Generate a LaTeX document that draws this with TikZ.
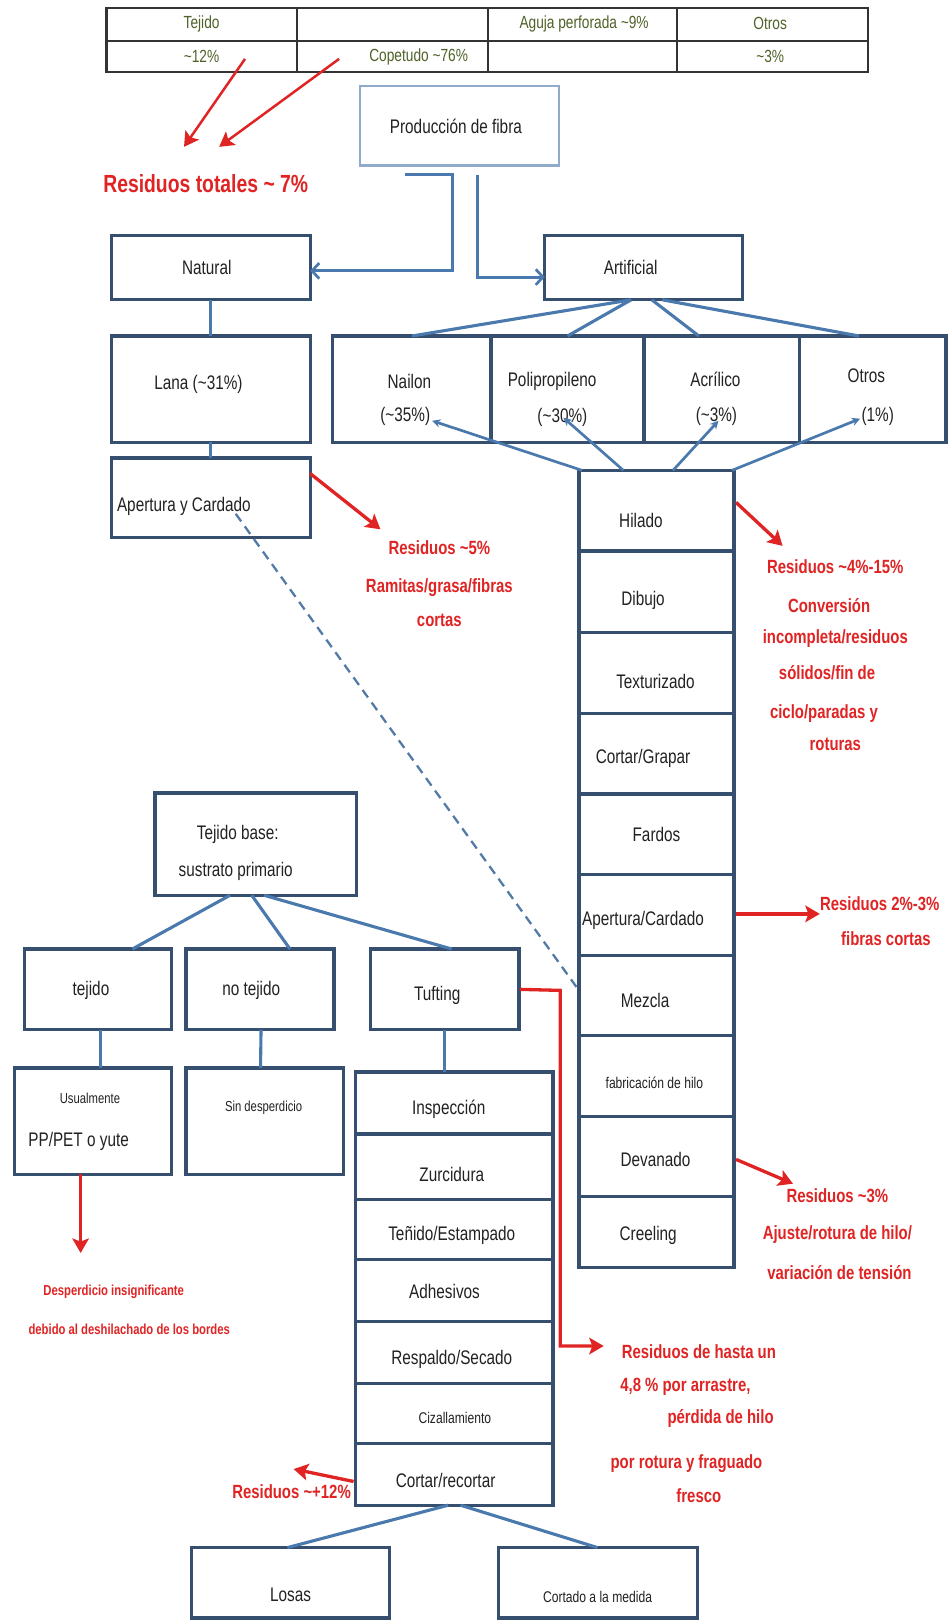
\documentclass[tikz,border=0pt]{standalone}
\usepackage{fontspec}
\setmainfont[FakeStretch=0.78]{Liberation Sans}
\usetikzlibrary{arrows.meta,calc}

\definecolor{boxc}{HTML}{374F6E}
\definecolor{linkc}{HTML}{4A79AE}
\definecolor{prodc}{HTML}{90AACB}
\definecolor{wastec}{HTML}{E02424}
\definecolor{tabc}{HTML}{4F6228}
\definecolor{inkc}{HTML}{222222}

\newcommand{\fsz}[1]{\fontsize{#1pt}{#1pt}\selectfont}
% box from corner (x1,y1) to corner (x2,y2)
\newcommand{\mkbox}[6][]{\node[procbox,#1,minimum width={#5-#3},minimum height={#6-#4}] (#2) at ({(#3+#5)/2},{(#4+#6)/2}) {};}

\tikzset{
  procbox/.style={draw=boxc, line width=3.1pt, rectangle, inner sep=0pt, outer sep=0pt, fill=white},
  lbl/.style={inner sep=0pt, text=inkc, font=\fsz{19}},
  smalllbl/.style={inner sep=0pt, text=inkc, font=\fsz{15}},
  tinylbl/.style={inner sep=0pt, text=inkc, font=\fsz{14}},
  tabtxt/.style={inner sep=0pt, text=tabc, font=\fsz{17}},
  tabline/.style={draw=black!80, line width=2pt},
  waste/.style={inner sep=0pt, text=wastec, font=\fsz{18.5}\bfseries},
  smallwaste/.style={inner sep=0pt, text=wastec, font=\fsz{14}\bfseries},
  link/.style={draw=linkc, line width=3pt},
  flowarrow/.style={link, -{Straight Barb[length=7pt,width=15pt,line width=2.6pt]}},
  feed/.style={link, line width=2.6pt, {Stealth[length=8pt,width=8pt]}-},
  wastearrow/.style={draw=wastec, line width=3.2pt, -{Stealth[length=14pt,width=16pt,inset=3pt]}},
  refline/.style={draw=linkc!85!gray, line width=2.2pt, dash pattern=on 9pt off 6pt},
}

\begin{document}
\begin{tikzpicture}[x=1pt,y=-1pt]
\fill[white] (0,0) rectangle (917,1568);
\useasboundingbox (0,0) rectangle (917,1568);

% ---------------- share table
\draw[tabline] (103,8) rectangle (840,70);
\draw[tabline] (103,40) -- (840,40);
\foreach \cx in {287,472,655} \draw[tabline] (\cx,8) -- (\cx,70);
\node[tabtxt] (tab-tejido) at (195,23) {Tejido};
\node[tabtxt] (tab-aguja) at (565,23) {Aguja perforada \textasciitilde9\%};
\node[tabtxt] (tab-otros) at (745,23) {Otros};
\node[tabtxt] (tab-t12) at (195,55) {\textasciitilde12\%};
\node[tabtxt] (tab-cop) at (405,55) {Copetudo \textasciitilde76\%};
\node[tabtxt] (tab-o3) at (745,55) {\textasciitilde3\%};

% ---------------- boxes
\mkbox[draw=prodc,line width=2.2pt]{prod}{348}{83}{541}{160}
\mkbox{natural}{108}{228}{300}{290}
\mkbox{artificial}{527}{228}{718}{290}
\mkbox{lana}{108}{325}{300}{428}
\mkbox{apcard}{108}{443}{300}{520}
\mkbox{nailon}{322}{325}{475}{428}
\mkbox{polip}{475}{325}{623}{428}
\mkbox{acril}{623}{325}{773}{428}
\mkbox{otrosb}{773}{325}{915}{428}

\mkbox{hilado}{560}{455}{710}{533}
\mkbox{dibujo}{560}{533}{710}{612}
\mkbox{textur}{560}{612}{710}{690}
\mkbox{grapar}{560}{690}{710}{768}
\mkbox{fardos}{560}{768}{710}{846}
\mkbox{apcard2}{560}{846}{710}{924}
\mkbox{mezcla}{560}{924}{710}{1002}
\mkbox{fabhilo}{560}{1002}{710}{1080}
\mkbox{devan}{560}{1080}{710}{1157}
\mkbox{creel}{560}{1157}{710}{1226}

\mkbox{tejbase}{150}{767}{345}{866}
\mkbox{tejido}{24}{918}{166}{996}
\mkbox{notejido}{180}{918}{323}{996}
\mkbox{tufting}{358}{918}{502}{996}
\mkbox{usual}{14}{1033}{166}{1136}
\mkbox{sindesp}{180}{1033}{332}{1136}

\mkbox{insp}{344}{1037}{535}{1097}
\mkbox{zurc}{344}{1097}{535}{1160}
\mkbox{tenido}{344}{1160}{535}{1218}
\mkbox{adhes}{344}{1218}{535}{1278}
\mkbox{resp}{344}{1278}{535}{1338}
\mkbox{ciza}{344}{1338}{535}{1396}
\mkbox{cortrec}{344}{1396}{535}{1456}

\mkbox{losas}{185}{1497}{377}{1565}
\mkbox{cortado}{482}{1497}{675}{1565}

% ---------------- box labels
\node[lbl] (l-prod) at (441,122) {Producción de fibra};
\node[lbl] (l-natural) at (200,259) {Natural};
\node[lbl] (l-artificial) at (610,259) {Artificial};
\node[lbl] (l-lana) at (192,372) {Lana (\textasciitilde31\%)};
\node[lbl,anchor=west] (l-apcard) at (113,490) {Apertura y Cardado};
\node[lbl] (l-nailon1) at (396,369) {Nailon};
\node[lbl] (l-nailon2) at (392,403) {(\textasciitilde35\%)};
\node[lbl] (l-polip1) at (534,369) {Polipropileno};
\node[lbl] (l-polip2) at (544,404) {(\textasciitilde30\%)};
\node[lbl] (l-acril1) at (692,367) {Acrílico};
\node[lbl] (l-acril2) at (693,403) {(\textasciitilde3\%)};
\node[lbl] (l-otros1) at (838,363) {Otros};
\node[lbl] (l-otros2) at (849,403) {(1\%)};

\node[lbl] (l-hilado) at (620,503) {Hilado};
\node[lbl] (l-dibujo) at (622,581) {Dibujo};
\node[lbl] (l-textur) at (634,659) {Texturizado};
\node[lbl] (l-grapar) at (622,734) {Cortar/Grapar};
\node[lbl] (l-fardos) at (635,807) {Fardos};
\node[lbl] (l-apcard2) at (622,890) {Apertura/Cardado};
\node[lbl] (l-mezcla) at (624,968) {Mezcla};
\node[smalllbl] (l-fabhilo) at (633,1047) {fabricación de hilo};
\node[lbl] (l-devan) at (634,1122) {Devanado};
\node[lbl] (l-creel) at (627,1195) {Creeling};

\node[lbl] (l-tejbase1) at (230,807) {Tejido base:};
\node[lbl] (l-tejbase2) at (228,843) {sustrato primario};
\node[lbl] (l-tejido) at (88,958) {tejido};
\node[lbl] (l-notejido) at (243,958) {no tejido};
\node[lbl] (l-tufting) at (423,963) {Tufting};
\node[tinylbl] (l-usual1) at (87,1062) {Usualmente};
\node[lbl] (l-usual2) at (76,1104) {PP/PET o yute};
\node[tinylbl] (l-sindesp) at (255,1072) {Sin desperdicio};

\node[lbl] (l-insp) at (434,1073) {Inspección};
\node[lbl] (l-zurc) at (437,1136) {Zurcidura};
\node[lbl] (l-tenido) at (437,1195) {Teñido/Estampado};
\node[lbl] (l-adhes) at (430,1249) {Adhesivos};
\node[lbl] (l-resp) at (437,1315) {Respaldo/Secado};
\node[smalllbl] (l-ciza) at (440,1372) {Cizallamiento};
\node[lbl] (l-cortrec) at (431,1432) {Cortar/recortar};
\node[lbl] (l-losas) at (281,1543) {Losas};
\node[smalllbl] (l-cortado) at (578,1545) {Cortado a la medida};

% ---------------- blue connectors
\coordinate (p-stub) at (392,169);
\coordinate (p-left) at (438,169);
\coordinate (p-right) at (462,169);
\draw[flowarrow] (p-stub) -- (p-left) |- ([yshift=-3pt]natural.east);
\draw[flowarrow] (p-right) |- ([yshift=-9pt]artificial.west);

\draw[link] ([xshift=-12pt]artificial.south) -- (nailon.north);
\draw[link] ([xshift=-12pt]artificial.south) -- (polip.north);
\draw[link] ([xshift=8pt]artificial.south) -- ([xshift=-22pt]acril.north);
\draw[link] ([xshift=18pt]artificial.south) -- ([xshift=-13pt]otrosb.north);

\coordinate (f-nailon) at (418,407);
\coordinate (f-polip) at (545,404);
\coordinate (f-acril) at (695,407);
\coordinate (f-otros) at (832,405);
\draw[feed] (f-nailon) -- ([xshift=3pt]hilado.north west);
\draw[feed] (f-polip) -- ([xshift=43pt]hilado.north west);
\draw[feed] (f-acril) -- ([xshift=91pt]hilado.north west);
\draw[feed] (f-otros) -- ([xshift=-2pt]hilado.north east);

\draw[link] (natural.south) -- (lana.north);
\draw[link] (lana.south) -- (apcard.north);

\draw[link] ([xshift=-25pt]tejbase.south) -- ([xshift=33pt]tejido.north);
\draw[link] ([xshift=-4pt]tejbase.south) -- ([xshift=29pt]notejido.north);
\draw[link] ([xshift=8pt]tejbase.south) -- ([xshift=7pt]tufting.north);
\draw[link] ([xshift=2pt]tejido.south) -- ([xshift=7pt]usual.north);
\draw[link] ([xshift=1pt]notejido.south) -- ([xshift=-4pt]sindesp.north);
\draw[link] ([xshift=0pt]tufting.south) -- ([xshift=-9.5pt]insp.north);

\draw[link] ([xshift=-6pt]cortrec.south) -- ([xshift=-3pt]losas.north);
\draw[link] ([xshift=6pt]cortrec.south) -- ([xshift=-0.5pt]cortado.north);

% link from the wool carding step to blending
\coordinate (d-start) at (228,497);
\draw[refline] (d-start) -- ([yshift=5pt]mezcla.west);

% ---------------- waste arrows and notes
\coordinate (w-t12) at (237,57);
\coordinate (w-cop) at (328,57);
\coordinate (w-tot1) at (178,142);
\coordinate (w-tot2) at (212,142);
\draw[wastearrow,line width=2.4pt] (w-t12) -- (w-tot1);
\draw[wastearrow,line width=2.4pt] (w-cop) -- (w-tot2);
\node[waste,font=\fsz{24}\bfseries] (n-total) at (199,178) {Residuos totales \textasciitilde\ 7\%};

\coordinate (w-lana) at (368,512);
\draw[wastearrow] ([yshift=-15pt]apcard.north east) -- (w-lana);
\node[waste] (n-lana1) at (425,530) {Residuos \textasciitilde5\%};
\node[waste] (n-lana2) at (425,568) {Ramitas/grasa/fibras};
\node[waste] (n-lana3) at (425,600) {cortas};

\coordinate (w-hil) at (757,528);
\draw[wastearrow] ([xshift=2pt,yshift=8pt]hilado.east) -- (w-hil);
\node[waste] (n-hil1) at (808,548) {Residuos \textasciitilde4\%-15\%};
\node[waste] (n-hil2) at (802,586) {Conversión};
\node[waste] (n-hil3) at (808,618) {incompleta/residuos};
\node[waste] (n-hil4) at (800,651) {sólidos/fin de};
\node[waste] (n-hil5) at (797,690) {ciclo/paradas y};
\node[waste] (n-hil6) at (808,720) {roturas};

\coordinate (w-card) at (793,884);
\draw[wastearrow] ([xshift=2pt,yshift=1pt]apcard2.east) -- (w-card);
\node[waste] (n-card1) at (851,874) {Residuos 2\%-3\%};
\node[waste] (n-card2) at (857,908) {fibras cortas};

\coordinate (w-dev) at (767,1145);
\draw[wastearrow] ([xshift=2pt,yshift=-3pt]devan.east) -- (w-dev);
\node[waste] (n-dev1) at (810,1157) {Residuos \textasciitilde3\%};
\node[waste] (n-dev2) at (810,1194) {Ajuste/rotura de hilo/};
\node[waste] (n-dev3) at (812,1231) {variación de tensión};

\coordinate (w-usual) at (78,1212);
\draw[wastearrow] ([xshift=-12pt]usual.south) -- (w-usual);
\node[smallwaste] (n-usual1) at (110,1250) {Desperdicio insignificante};
\node[smallwaste] (n-usual2) at (125,1286) {debido al deshilachado de los bordes};

\coordinate (w-tufbend) at (542,958);
\coordinate (w-tufend) at (584,1302);
\draw[wastearrow] ([xshift=1pt]tufting.east) -- (w-tufbend) |- (w-tufend);
\node[waste] (n-tuf1) at (676,1307) {Residuos de hasta un};
\node[waste] (n-tuf2) at (663,1341) {4,8 \% por arrastre,};
\node[waste] (n-tuf3) at (697,1372) {pérdida de hilo};
\node[waste] (n-tuf4) at (664,1416) {por rotura y fraguado};
\node[waste] (n-tuf5) at (676,1447) {fresco};

\node[waste] (n-cut) at (282,1443) {Residuos \textasciitilde+12\%};
\coordinate (w-cut) at (284,1421);
\draw[wastearrow] ([xshift=-2pt,yshift=-7pt]cortrec.west) -- (w-cut);

\end{tikzpicture}
\end{document}
